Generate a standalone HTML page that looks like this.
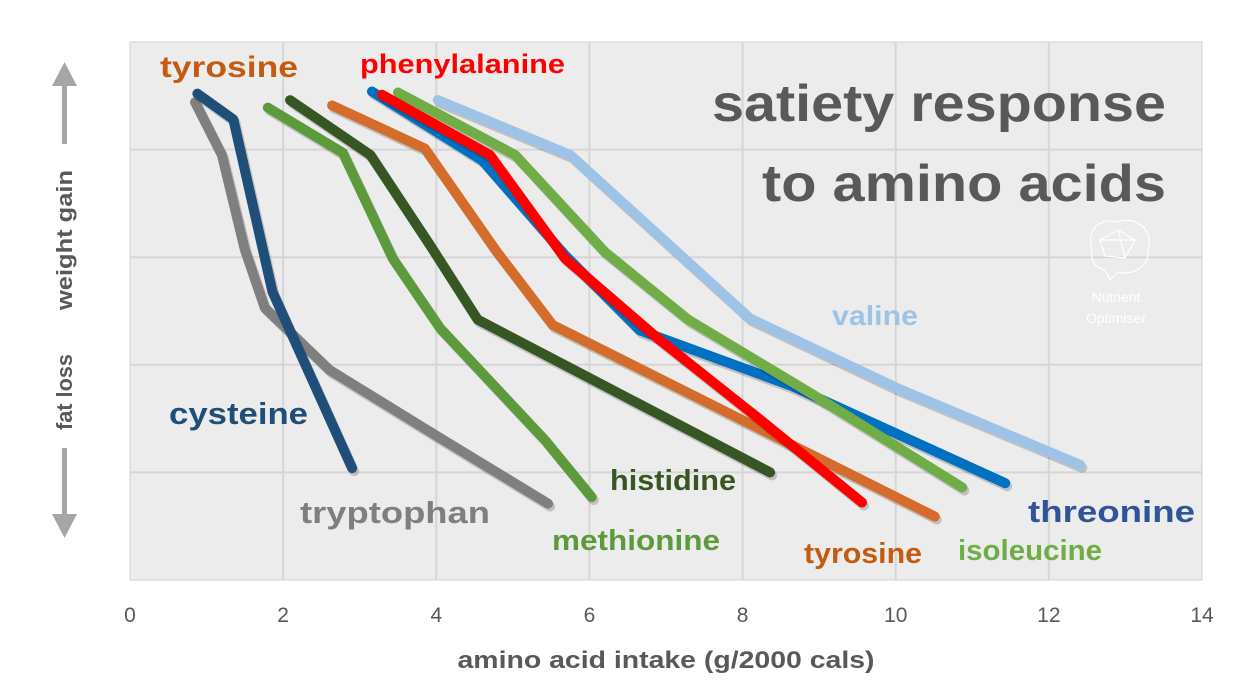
<!DOCTYPE html>
<html><head><meta charset="utf-8"><style>
body{margin:0;background:#fff;}
svg{display:block;font-family:"Liberation Sans",Arial,sans-serif;}
</style></head><body>
<svg id="chart" width="1244" height="689">
<rect x="130" y="42" width="1072" height="538" fill="#ececec" stroke="#d0d0d0"/>
<g id="grid"></g>
<g id="xticks"></g>
<text x="666" y="668" text-anchor="middle" font-size="24" font-weight="bold" fill="#595959" textLength="417" lengthAdjust="spacingAndGlyphs">amino acid intake (g/2000 cals)</text>
<g fill="#a6a6a6">
<rect x="62" y="84" width="5" height="60" fill="#a6a6a6"/>
<polygon points="52,86 64.5,62 77,86"/>
<rect x="62" y="448" width="5" height="70" fill="#a6a6a6"/>
<polygon points="52,514 64.5,538 77,514"/>
<text transform="translate(72,240) rotate(-90)" text-anchor="middle" font-size="22" font-weight="bold" fill="#595959" textLength="140" lengthAdjust="spacingAndGlyphs">weight gain</text>
<text transform="translate(72,392) rotate(-90)" text-anchor="middle" font-size="22" font-weight="bold" fill="#595959" textLength="76" lengthAdjust="spacingAndGlyphs">fat loss</text>
</g>
<text x="1166" y="121" text-anchor="end" font-size="52" font-weight="bold" fill="#595959" textLength="454" lengthAdjust="spacingAndGlyphs">satiety response</text>
<text x="1166" y="201" text-anchor="end" font-size="52" font-weight="bold" fill="#595959" textLength="404" lengthAdjust="spacingAndGlyphs">to amino acids</text>
<g stroke="#fff" stroke-width="1.2" fill="none">
<path d="M1092,250 C1085,225 1105,218 1118,222 C1135,215 1155,230 1148,250 C1150,268 1130,276 1118,272 L1110,280 L1105,270 C1095,268 1090,260 1092,250 Z"/>
<path d="M1100,240 L1118,230 L1135,240 L1125,258 L1105,256 Z M1118,230 L1125,258 M1100,240 L1135,240"/>
<text x="1116" y="302" text-anchor="middle" font-size="14" fill="#fff" stroke="none">Nutrient</text>
<text x="1116" y="323" text-anchor="middle" font-size="14" fill="#fff" stroke="none">Optimiser</text>
</g>
<g id="series"></g>
<g id="labels" font-weight="bold" font-size="30"></g>
</svg>
<script>
const xTicks=[0,2,4,6,8,10,12,14];
const yGrid=[1,2,3,4];
const cysteineX=[0.88,1.35,1.86,2.90], cysteineY=[4.52,4.28,2.68,1.04];
const tryptophanX=[0.85,1.20,1.50,1.76,2.61,4.05,5.46], tryptophanY=[4.44,3.95,3.07,2.53,1.95,1.32,0.71];
const methionineX=[1.80,2.78,3.43,4.05,5.42,6.03], methionineY=[4.39,3.97,2.99,2.34,1.30,0.77];
const histidineX=[2.09,3.14,3.92,4.54,8.36], histidineY=[4.46,3.95,3.11,2.42,1.00];
const tyrosineX=[2.64,3.85,4.77,5.52,10.51], tyrosineY=[4.41,4.01,3.07,2.37,0.59];
const threonineX=[3.16,4.60,5.68,6.66,8.62,11.43], threonineY=[4.54,3.90,3.02,2.32,1.81,0.90];
const isoleucineX=[3.50,5.03,6.20,7.29,8.88,10.87], isoleucineY=[4.53,3.95,3.05,2.42,1.74,0.86];
const valineX=[4.02,5.75,8.10,10.06,12.41], valineY=[4.46,3.95,2.43,1.77,1.07];
const phenylalanineX=[3.29,4.70,5.68,6.92,8.23,9.56], phenylalanineY=[4.51,3.95,2.99,2.23,1.49,0.72];

const NS="http://www.w3.org/2000/svg";
const xs=v=>130+v*(1072/14);
const ys=v=>580-v*107.6;
function mk(t,p,a){const e=document.createElementNS(NS,t);for(const k in a)e.setAttribute(k,a[k]);p.appendChild(e);return e;}
const grid=document.getElementById('grid'), xt=document.getElementById('xticks');
xTicks.forEach(t=>{
 if(t>0&&t<14){const l=mk('line',grid,{x1:xs(t),x2:xs(t),y1:42,y2:580,stroke:'#d6d6d6','stroke-width':2});
 
 }
 const tx=mk('text',xt,{x:xs(t),y:622,'text-anchor':'middle','font-size':21,fill:'#595959'});tx.textContent=t;
 
 
});
yGrid.forEach(t=>{const l=mk('line',grid,{x1:130,x2:1202,y1:ys(t),y2:ys(t),stroke:'#d6d6d6','stroke-width':2});
 
 });
const series=[
 ['valine',valineX,valineY,'#9dc3e6'],
 ['tryptophan',tryptophanX,tryptophanY,'#7f7f7f'],
 ['cysteine',cysteineX,cysteineY,'#1f4e79'],
 ['methionine',methionineX,methionineY,'#5c9a3c'],
 ['histidine',histidineX,histidineY,'#375623'],
 ['tyrosine',tyrosineX,tyrosineY,'#d46d2b'],
 ['threonine',threonineX,threonineY,'#0070c0'],
 ['isoleucine',isoleucineX,isoleucineY,'#70ad47'],
 ['phenylalanine',phenylalanineX,phenylalanineY,'#ff0000']
];
const sg=document.getElementById('series');
series.forEach(([n,X,Y,c])=>{
 const pts=X.map((x,i)=>xs(x)+','+ys(Y[i])).join(' ');
 mk('polyline',sg,{points:pts,fill:'none',stroke:'rgba(0,0,0,0.18)','stroke-width':10,'stroke-linejoin':'round','stroke-linecap':'round',transform:'translate(2,3)'});
 const p=mk('polyline',sg,{points:pts,fill:'none',stroke:c,'stroke-width':10,'stroke-linejoin':'round','stroke-linecap':'round'});
 
 
});
const lbls=[['tyrosine',160,77,'#c55a11',30,138],['phenylalanine',360,73,'#ff0000',27,205],['valine',832,325,'#9dc3e6',28,86],['cysteine',169,424,'#1f4e79',31,139],['tryptophan',300,523,'#7f7f7f',31,190],['histidine',610,490,'#375623',29,126],['methionine',552,550,'#5c9a3c',29,168],['tyrosine',804,563,'#c55a11',29,118],['isoleucine',958,560,'#70ad47',29,144],['threonine',1028,522,'#2f5597',31,167]];
const lg=document.getElementById('labels');
lbls.forEach(([t,x,y,c,s,w])=>{const e=mk('text',lg,{x:x,y:y,fill:c,'font-size':s,textLength:w,lengthAdjust:'spacingAndGlyphs'});e.textContent=t;
 
 });
</script>
</body></html>
